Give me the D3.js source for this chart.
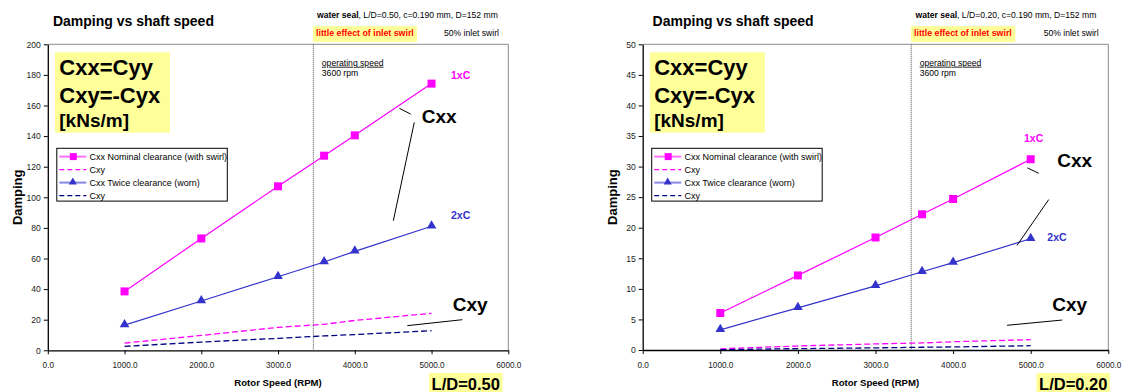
<!DOCTYPE html>
<html>
<head>
<meta charset="utf-8">
<script src="https://cdn.jsdelivr.net/npm/d3@7"></script>
<style>
  body { margin: 0; background: #fff; }
  svg { font-family: "Liberation Sans", Arial, sans-serif; }
</style>
</head>
<body>
<div id="chart"></div>
<script>
// rotor speeds (RPM) of the test points
var speeds = [1000, 2000, 3000, 3600, 4000, 5000];
// L/D = 0.50
var cxxNominal50 = [38.5, 73.1, 107.2, 127.2, 140.5, 174.3];
var cxyNominal50 = [4.7, 9.7, 15.0, 17.0, 19.5, 24.2];
var cxxWorn50 = [16.5, 32.2, 48.1, 57.7, 64.7, 81.1];
var cxyWorn50 = [2.6, 5.4, 7.8, 9.4, 10.3, 12.8];
// L/D = 0.20
var cxxNominal20 = [6.05, 12.2, 18.4, 22.2, 24.7, 31.2];
var cxyNominal20 = [0.2, 0.65, 1.0, 1.15, 1.35, 1.7];
var cxxWorn20 = [3.3, 6.9, 10.5, 12.8, 14.3, 18.2];
var cxyWorn20 = [0.05, 0.22, 0.35, 0.45, 0.5, 0.7];

var xTicks = [0, 1000, 2000, 3000, 4000, 5000, 6000];
var yTicks50 = [0, 20, 40, 60, 80, 100, 120, 140, 160, 180, 200];
var yTicks20 = [0, 5, 10, 15, 20, 25, 30, 35, 40, 45, 50];
var operatingSpeed = 3460;
var legendLabels = ['Cxx Nominal clearance (with swirl)', 'Cxy', 'Cxx Twice clearance (worn)', 'Cxy'];

var W = 1123, H = 392;
var svg = d3.select('#chart').append('svg').attr('width', W).attr('height', H);

var panels = [
    {
        ld: '0.50', left: 47.8, right: 508.3, top: 44.3, bottom: 350.3, yMax: 200, yTicks: yTicks50,
        series: [cxxNominal50, cxyNominal50, cxxWorn50, cxyWorn50],
        titleX: 52.9, infoX: 317, swirlBox: [313, 417], swirl50X: 444, ldBox: [429, 502.5],
        // annotation spots in data units [rpm, damping]
        lbl1: [5253, 177.3], lbl2: [5253, 85.8], cxxLbl: [4872, 148.4], cxyLbl: [5276, 25.9],
        lines: [[[4580, 158.2], [4728, 154.4]], [[4775, 149], [4502, 84.7]], [[4684, 16.1], [5401, 20]]],
        opY: 186
    },
    {
        ld: '0.20', left: 642.7, right: 1108.3, top: 44.3, bottom: 350, yMax: 50, yTicks: yTicks20,
        series: [cxxNominal20, cxyNominal20, cxxWorn20, cxyWorn20],
        titleX: 652.6, infoX: 915.5, swirlBox: [911, 1015.3], swirl50X: 1043.7, ldBox: [1036.5, 1110],
        lbl1: [4914, 34.1], lbl2: [5214, 17.9], cxxLbl: [5343, 30.0], cxyLbl: [5278, 6.43],
        lines: [[[4956, 29.8], [5103, 28.9]], [[5232, 24.6], [4823, 17.1]], [[4695, 4.04], [5407, 4.9]]],
        opY: 46.5
    }
];

var MAG = '#ff00ff', BLUE = '#3333cc', NAVY = '#000080', YEL = '#ffff99';

panels.forEach(function (p) {
    var x = d3.scaleLinear().domain([0, 6000]).range([p.left, p.right]);
    var y = d3.scaleLinear().domain([0, p.yMax]).range([p.bottom, p.top]);
    var g = svg.append('g');

    // header texts
    g.append('text').attr('x', p.titleX).attr('y', 25.5)
        .style('font-size', '14px').style('font-weight', 'bold').text('Damping vs shaft speed');
    var info = g.append('text').attr('x', p.infoX).attr('y', 17.5).style('font-size', '8.6px');
    info.append('tspan').style('font-weight', 'bold').text('water seal');
    info.append('tspan').text(', L/D=' + p.ld + ', c=0.190 mm, D=152 mm');
    g.append('rect').attr('x', p.swirlBox[0]).attr('y', 26).attr('width', p.swirlBox[1] - p.swirlBox[0])
        .attr('height', 16).attr('fill', YEL);
    g.append('text').attr('x', p.swirlBox[0] + 3).attr('y', 35.5).attr('fill', '#ff0000')
        .style('font-size', '8.8px').style('font-weight', 'bold').text('little effect of inlet swirl');
    g.append('text').attr('x', p.swirl50X).attr('y', 35.5).style('font-size', '8.6px').text('50% inlet swirl');

    // plot frame (top/right grey)
    g.append('path').attr('d', 'M' + p.left + ',' + p.top + 'H' + p.right + 'V' + p.bottom)
        .attr('fill', 'none').attr('stroke', '#8c8c8c').attr('stroke-width', 1);

    // axes
    var ya = g.append('g').attr('transform', 'translate(' + p.left + ',0)')
        .call(d3.axisLeft(y).tickValues(p.yTicks).tickSize(4).tickSizeOuter(0).tickPadding(3).tickFormat(d3.format('d')));
    ya.selectAll('text').style('font-size', '8.6px').style('font-family', 'Liberation Sans, Arial, sans-serif').attr('fill', '#222');
    var xa = g.append('g').attr('transform', 'translate(0,' + p.bottom + ')')
        .call(d3.axisBottom(x).tickValues(xTicks).tickSize(4).tickSizeOuter(0).tickPadding(8).tickFormat(d3.format('.1f')));
    xa.selectAll('text').style('font-size', '8.2px').style('font-family', 'Liberation Sans, Arial, sans-serif').attr('fill', '#222');
    [ya, xa].forEach(function (a) {
        a.select('.domain').attr('stroke', '#000').attr('stroke-width', 1.3);
    });

    // operating speed line
    g.append('line').attr('x1', x(operatingSpeed)).attr('x2', x(operatingSpeed))
        .attr('y1', p.top).attr('y2', p.bottom)
        .attr('stroke', '#444').attr('stroke-width', 1).attr('stroke-dasharray', '1,1');
    g.append('text').attr('x', x(operatingSpeed) + 8.5).attr('y', y(p.opY))
        .style('font-size', '8.6px').style('text-decoration', 'underline').text('operating speed');
    g.append('text').attr('x', x(operatingSpeed) + 8.5).attr('y', y(p.opY) + 10.5)
        .style('font-size', '8.6px').text('3600 rpm');

    // axis titles
    g.append('text').attr('transform', 'translate(' + (p.left - 26) + ',' + ((p.top + p.bottom) / 2) + ') rotate(-90)')
        .attr('text-anchor', 'middle').style('font-size', '13px').style('font-weight', 'bold').text('Damping');
    g.append('text').attr('x', (p.left + p.right) / 2).attr('y', 386).attr('text-anchor', 'middle')
        .style('font-size', '9.6px').style('font-weight', 'bold').text('Rotor Speed (RPM)');

    // series
    var line = d3.line().x(function (d, i) { return x(speeds[i]); }).y(function (d) { return y(d); });
    var styles = [
        {stroke: MAG, dash: null, w: 1.2},
        {stroke: MAG, dash: '6,3', w: 1.3},
        {stroke: BLUE, dash: null, w: 1.2},
        {stroke: NAVY, dash: '6,3', w: 1.3}
    ];
    p.series.forEach(function (s, k) {
        g.append('path').datum(s).attr('d', line).attr('fill', 'none')
            .attr('stroke', styles[k].stroke).attr('stroke-width', styles[k].w)
            .attr('stroke-dasharray', styles[k].dash);
    });
    g.selectAll('.sq').data(p.series[0]).enter().append('rect')
        .attr('x', function (d, i) { return x(speeds[i]) - 4; })
        .attr('y', function (d) { return y(d) - 4; })
        .attr('width', 8).attr('height', 8).attr('fill', MAG);
    var tri = d3.symbol().type(d3.symbolTriangle).size(40);
    g.selectAll('.tri').data(p.series[2]).enter().append('path')
        .attr('d', tri)
        .attr('transform', function (d, i) { return 'translate(' + x(speeds[i]) + ',' + (y(d) - 0.5) + ')'; })
        .attr('fill', BLUE);

    // Cxx=Cyy box
    g.append('rect').attr('x', p.left + 7.2).attr('y', 52.3).attr('width', 115).attr('height', 80.4).attr('fill', YEL);
    var bt = [['Cxx=Cyy', 75, 22], ['Cxy=-Cyx', 102.7, 22], ['[kNs/m]', 127, 19]];
    bt.forEach(function (t) {
        g.append('text').attr('x', p.left + 11.5).attr('y', t[1])
            .style('font-size', t[2] + 'px').style('font-weight', 'bold').text(t[0]);
    });

    // legend
    var lx = p.left + 9, ly = 148.3;
    g.append('rect').attr('x', lx).attr('y', ly).attr('width', 170.5).attr('height', 52.8)
        .attr('fill', '#fff').attr('stroke', '#000').attr('stroke-width', 1);
    var legStyles = [
        {stroke: '#ff70ff', dash: null, w: 2, mark: 'sq'},
        {stroke: MAG, dash: '5,3', w: 1.2},
        {stroke: '#8888e8', dash: null, w: 2, mark: 'tri'},
        {stroke: NAVY, dash: '5,3', w: 1.2}
    ];
    legendLabels.forEach(function (lab, i) {
        var yy = ly + 8.3 + i * 13;
        var st = legStyles[i];
        g.append('line').attr('x1', lx + 2.5).attr('x2', lx + 29.5).attr('y1', yy).attr('y2', yy)
            .attr('stroke', st.stroke).attr('stroke-width', st.w).attr('stroke-dasharray', st.dash);
        if (st.mark === 'sq') {
            g.append('rect').attr('x', lx + 13).attr('y', yy - 3.5).attr('width', 7).attr('height', 7).attr('fill', MAG);
        } else if (st.mark === 'tri') {
            g.append('path').attr('d', d3.symbol().type(d3.symbolTriangle).size(28))
                .attr('transform', 'translate(' + (lx + 16) + ',' + (yy - 0.5) + ')').attr('fill', BLUE);
        }
        g.append('text').attr('x', lx + 32.7).attr('y', yy + 3.2).style('font-size', '9px').text(lab);
    });

    // annotations
    g.append('text').attr('x', x(p.lbl1[0])).attr('y', y(p.lbl1[1])).attr('fill', MAG)
        .style('font-size', '10.5px').style('font-weight', 'bold').text('1xC');
    g.append('text').attr('x', x(p.lbl2[0])).attr('y', y(p.lbl2[1])).attr('fill', BLUE)
        .style('font-size', '10.5px').style('font-weight', 'bold').text('2xC');
    g.append('text').attr('x', x(p.cxxLbl[0])).attr('y', y(p.cxxLbl[1]))
        .style('font-size', '19px').style('font-weight', 'bold').text('Cxx');
    g.append('text').attr('x', x(p.cxyLbl[0])).attr('y', y(p.cxyLbl[1]))
        .style('font-size', '19px').style('font-weight', 'bold').text('Cxy');
    p.lines.forEach(function (l) {
        g.append('line').attr('x1', x(l[0][0])).attr('y1', y(l[0][1]))
            .attr('x2', x(l[1][0])).attr('y2', y(l[1][1]))
            .attr('stroke', '#000').attr('stroke-width', 1);
    });

    // L/D box
    g.append('rect').attr('x', p.ldBox[0]).attr('y', 373).attr('width', p.ldBox[1] - p.ldBox[0]).attr('height', 19).attr('fill', YEL);
    g.append('text').attr('x', (p.ldBox[0] + p.ldBox[1]) / 2).attr('y', 389.5).attr('text-anchor', 'middle')
        .style('font-size', '16.5px').style('font-weight', 'bold').text('L/D=' + p.ld);
});
</script>
</body>
</html>
